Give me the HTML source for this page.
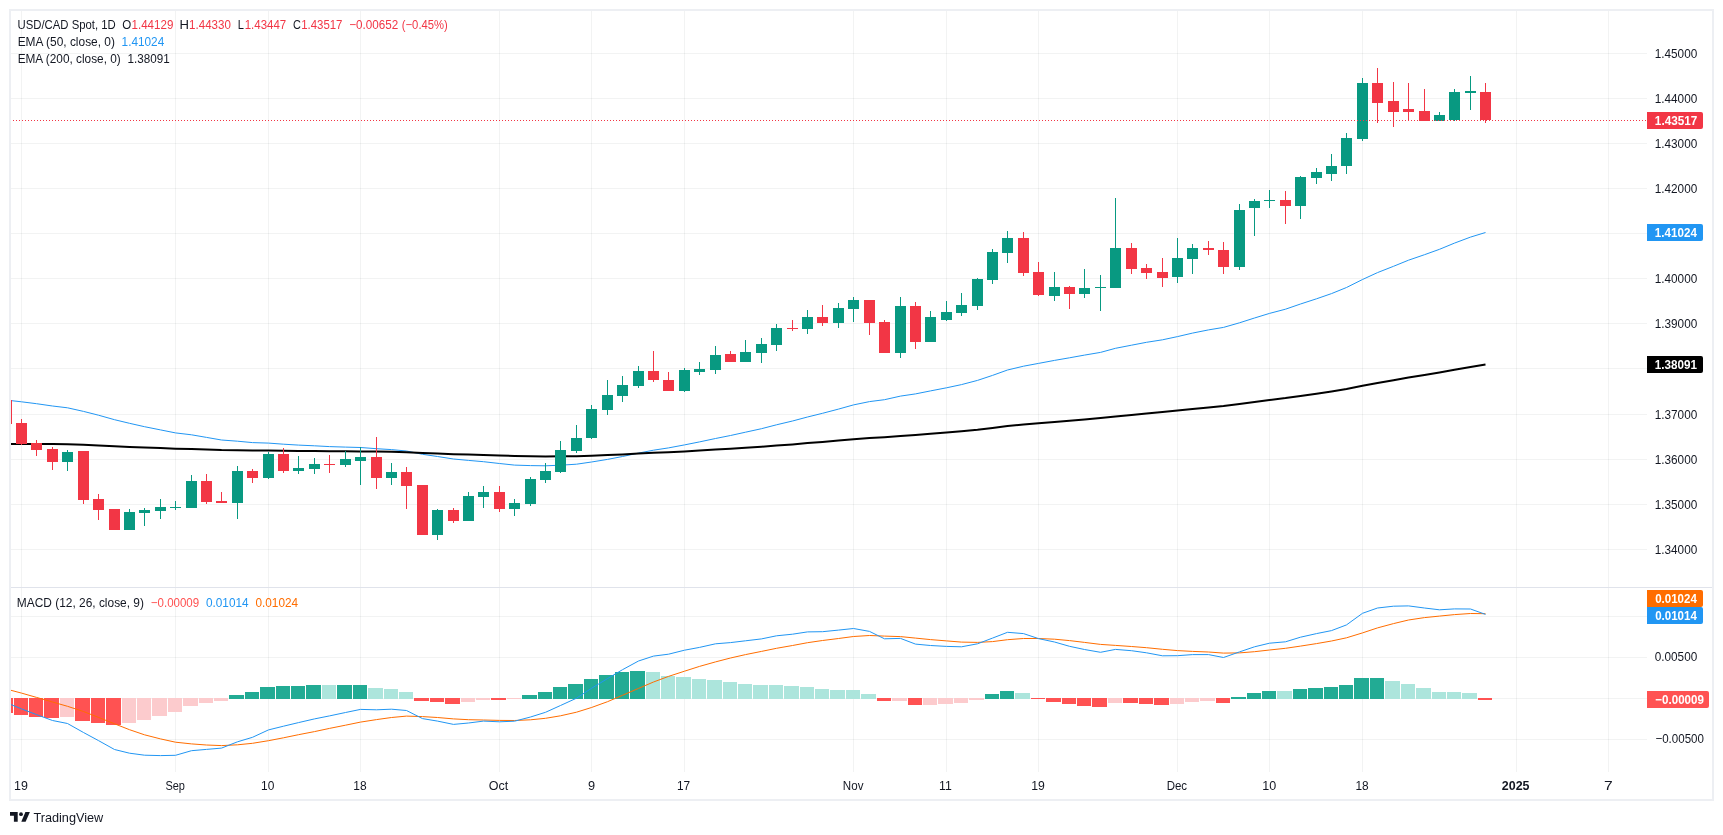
<!DOCTYPE html><html><head><meta charset="utf-8"><style>html,body{margin:0;padding:0;background:#fff;}svg{display:block;will-change:transform;}text{font-family:"Liberation Sans", sans-serif;}</style></head><body><svg width="1723" height="835" viewBox="0 0 1723 835" shape-rendering="crispEdges">
<rect x="0" y="0" width="1723" height="835" fill="#FFFFFF"/>
<rect x="9" y="9" width="1705" height="2" fill="#EDEFF3"/>
<rect x="9" y="799" width="1705" height="2" fill="#EDEFF3"/>
<rect x="9" y="9" width="2" height="792" fill="#EDEFF3"/>
<rect x="1712" y="9" width="2" height="792" fill="#EDEFF3"/>
<defs><clipPath id="c1"><rect x="11" y="11" width="1636" height="576"/></clipPath><clipPath id="c2"><rect x="11" y="588" width="1636" height="183"/></clipPath></defs>
<rect x="21" y="11" width="1" height="761" fill="rgba(42,46,57,0.06)"/>
<rect x="175" y="11" width="1" height="761" fill="rgba(42,46,57,0.06)"/>
<rect x="268" y="11" width="1" height="761" fill="rgba(42,46,57,0.06)"/>
<rect x="360" y="11" width="1" height="761" fill="rgba(42,46,57,0.06)"/>
<rect x="499" y="11" width="1" height="761" fill="rgba(42,46,57,0.06)"/>
<rect x="591" y="11" width="1" height="761" fill="rgba(42,46,57,0.06)"/>
<rect x="684" y="11" width="1" height="761" fill="rgba(42,46,57,0.06)"/>
<rect x="853" y="11" width="1" height="761" fill="rgba(42,46,57,0.06)"/>
<rect x="946" y="11" width="1" height="761" fill="rgba(42,46,57,0.06)"/>
<rect x="1038" y="11" width="1" height="761" fill="rgba(42,46,57,0.06)"/>
<rect x="1177" y="11" width="1" height="761" fill="rgba(42,46,57,0.06)"/>
<rect x="1269" y="11" width="1" height="761" fill="rgba(42,46,57,0.06)"/>
<rect x="1362" y="11" width="1" height="761" fill="rgba(42,46,57,0.06)"/>
<rect x="1516" y="11" width="1" height="761" fill="rgba(42,46,57,0.06)"/>
<rect x="1608" y="11" width="1" height="761" fill="rgba(42,46,57,0.06)"/>
<rect x="11" y="53" width="1636" height="1" fill="rgba(42,46,57,0.06)"/>
<rect x="11" y="98" width="1636" height="1" fill="rgba(42,46,57,0.06)"/>
<rect x="11" y="143" width="1636" height="1" fill="rgba(42,46,57,0.06)"/>
<rect x="11" y="188" width="1636" height="1" fill="rgba(42,46,57,0.06)"/>
<rect x="11" y="233" width="1636" height="1" fill="rgba(42,46,57,0.06)"/>
<rect x="11" y="278" width="1636" height="1" fill="rgba(42,46,57,0.06)"/>
<rect x="11" y="323" width="1636" height="1" fill="rgba(42,46,57,0.06)"/>
<rect x="11" y="368" width="1636" height="1" fill="rgba(42,46,57,0.06)"/>
<rect x="11" y="414" width="1636" height="1" fill="rgba(42,46,57,0.06)"/>
<rect x="11" y="459" width="1636" height="1" fill="rgba(42,46,57,0.06)"/>
<rect x="11" y="504" width="1636" height="1" fill="rgba(42,46,57,0.06)"/>
<rect x="11" y="549" width="1636" height="1" fill="rgba(42,46,57,0.06)"/>
<rect x="11" y="616" width="1636" height="1" fill="rgba(42,46,57,0.06)"/>
<rect x="11" y="657" width="1636" height="1" fill="rgba(42,46,57,0.06)"/>
<rect x="11" y="698" width="1636" height="1" fill="rgba(42,46,57,0.06)"/>
<rect x="11" y="739" width="1636" height="1" fill="rgba(42,46,57,0.06)"/>
<rect x="11" y="587" width="1701" height="1" fill="#E0E3EB"/>
<g clip-path="url(#c1)">
<polyline points="6.5,400.1 21.5,401.8 36.5,403.7 52.5,406.0 67.5,407.8 83.5,411.4 98.5,415.2 114.5,419.7 129.5,423.3 144.5,426.7 160.5,429.9 175.5,432.9 191.5,434.8 206.5,437.4 221.5,440.0 237.5,441.2 252.5,442.6 268.5,443.1 283.5,444.2 298.5,445.1 314.5,445.8 329.5,446.6 345.5,447.1 360.5,447.5 376.5,448.7 391.5,449.6 406.5,451.0 422.5,454.3 437.5,456.5 453.5,459.0 468.5,460.4 483.5,461.7 499.5,463.5 514.5,465.1 530.5,465.6 545.5,465.8 560.5,465.2 576.5,464.2 591.5,462.0 607.5,459.4 622.5,456.5 638.5,453.1 653.5,450.2 668.5,447.9 684.5,444.9 699.5,441.9 715.5,438.5 730.5,435.5 745.5,432.2 761.5,428.7 776.5,424.8 792.5,421.0 807.5,417.0 822.5,413.3 838.5,409.1 853.5,404.9 869.5,401.6 884.5,399.7 900.5,396.1 915.5,393.9 930.5,390.9 946.5,387.8 961.5,384.6 977.5,380.4 992.5,375.4 1007.5,370.0 1023.5,366.2 1038.5,363.4 1054.5,360.4 1069.5,357.8 1084.5,355.1 1100.5,352.4 1115.5,348.3 1131.5,345.2 1146.5,342.3 1162.5,339.8 1177.5,336.6 1192.5,333.1 1208.5,329.9 1223.5,327.4 1239.5,322.8 1254.5,318.0 1269.5,313.4 1285.5,309.2 1300.5,304.0 1316.5,298.8 1331.5,293.6 1346.5,287.5 1362.5,279.5 1377.5,272.6 1393.5,266.3 1408.5,260.2 1424.5,254.7 1439.5,249.3 1454.5,243.1 1470.5,237.1 1485.5,232.5" fill="none" stroke="#2196F3" stroke-width="1" shape-rendering="geometricPrecision" stroke-linejoin="round"/>
<polyline points="6.5,443.9 21.5,443.9 36.5,443.9 52.5,444.1 67.5,444.2 83.5,444.7 98.5,445.4 114.5,446.2 129.5,446.9 144.5,447.5 160.5,448.1 175.5,448.7 191.5,449.0 206.5,449.5 221.5,450.1 237.5,450.3 252.5,450.5 268.5,450.6 283.5,450.8 298.5,451.0 314.5,451.1 329.5,451.2 345.5,451.3 360.5,451.4 376.5,451.6 391.5,451.8 406.5,452.2 422.5,453.0 437.5,453.6 453.5,454.2 468.5,454.6 483.5,455.0 499.5,455.5 514.5,456.0 530.5,456.2 545.5,456.4 560.5,456.3 576.5,456.2 591.5,455.7 607.5,455.1 622.5,454.4 638.5,453.6 653.5,452.8 668.5,452.2 684.5,451.4 699.5,450.6 715.5,449.6 730.5,448.7 745.5,447.8 761.5,446.7 776.5,445.6 792.5,444.4 807.5,443.1 822.5,441.9 838.5,440.6 853.5,439.2 869.5,438.1 884.5,437.2 900.5,435.9 915.5,435.0 930.5,433.8 946.5,432.6 961.5,431.3 977.5,429.8 992.5,428.0 1007.5,426.1 1023.5,424.6 1038.5,423.3 1054.5,422.0 1069.5,420.7 1084.5,419.4 1100.5,418.0 1115.5,416.4 1131.5,414.9 1146.5,413.5 1162.5,412.1 1177.5,410.6 1192.5,409.0 1208.5,407.4 1223.5,406.0 1239.5,404.1 1254.5,402.0 1269.5,400.0 1285.5,398.1 1300.5,395.9 1316.5,393.7 1331.5,391.4 1346.5,388.9 1362.5,385.8 1377.5,383.0 1393.5,380.3 1408.5,377.6 1424.5,375.1 1439.5,372.5 1454.5,369.7 1470.5,366.9 1485.5,364.5" fill="none" stroke="#000000" stroke-width="2" shape-rendering="geometricPrecision" stroke-linejoin="round"/>
<rect x="6" y="396" width="1" height="29" fill="#F23645"/>
<rect x="1" y="400" width="11" height="24" fill="#F23645"/>
<rect x="21" y="419" width="1" height="26" fill="#F23645"/>
<rect x="16" y="423" width="11" height="21" fill="#F23645"/>
<rect x="36" y="440" width="1" height="16" fill="#F23645"/>
<rect x="31" y="443" width="11" height="7" fill="#F23645"/>
<rect x="52" y="447" width="1" height="23" fill="#F23645"/>
<rect x="47" y="449" width="11" height="13" fill="#F23645"/>
<rect x="67" y="450" width="1" height="21" fill="#089981"/>
<rect x="62" y="452" width="11" height="10" fill="#089981"/>
<rect x="83" y="451" width="1" height="53" fill="#F23645"/>
<rect x="78" y="451" width="11" height="49" fill="#F23645"/>
<rect x="98" y="494" width="1" height="26" fill="#F23645"/>
<rect x="93" y="499" width="11" height="11" fill="#F23645"/>
<rect x="114" y="509" width="1" height="21" fill="#F23645"/>
<rect x="109" y="509" width="11" height="21" fill="#F23645"/>
<rect x="129" y="509" width="1" height="21" fill="#089981"/>
<rect x="124" y="512" width="11" height="18" fill="#089981"/>
<rect x="144" y="508" width="1" height="18" fill="#089981"/>
<rect x="139" y="510" width="11" height="3" fill="#089981"/>
<rect x="160" y="499" width="1" height="20" fill="#089981"/>
<rect x="155" y="507" width="11" height="4" fill="#089981"/>
<rect x="175" y="501" width="1" height="9" fill="#089981"/>
<rect x="170" y="507" width="11" height="1" fill="#089981"/>
<rect x="191" y="475" width="1" height="33" fill="#089981"/>
<rect x="186" y="481" width="11" height="27" fill="#089981"/>
<rect x="206" y="474" width="1" height="30" fill="#F23645"/>
<rect x="201" y="481" width="11" height="21" fill="#F23645"/>
<rect x="221" y="492" width="1" height="11" fill="#F23645"/>
<rect x="216" y="501" width="11" height="2" fill="#F23645"/>
<rect x="237" y="466" width="1" height="53" fill="#089981"/>
<rect x="232" y="471" width="11" height="32" fill="#089981"/>
<rect x="252" y="469" width="1" height="14" fill="#F23645"/>
<rect x="247" y="471" width="11" height="7" fill="#F23645"/>
<rect x="268" y="452" width="1" height="27" fill="#089981"/>
<rect x="263" y="454" width="11" height="24" fill="#089981"/>
<rect x="283" y="448" width="1" height="25" fill="#F23645"/>
<rect x="278" y="454" width="11" height="17" fill="#F23645"/>
<rect x="298" y="456" width="1" height="18" fill="#089981"/>
<rect x="293" y="468" width="11" height="3" fill="#089981"/>
<rect x="314" y="458" width="1" height="16" fill="#089981"/>
<rect x="309" y="464" width="11" height="5" fill="#089981"/>
<rect x="329" y="455" width="1" height="18" fill="#F23645"/>
<rect x="324" y="464" width="11" height="1" fill="#F23645"/>
<rect x="345" y="451" width="1" height="16" fill="#089981"/>
<rect x="340" y="459" width="11" height="6" fill="#089981"/>
<rect x="360" y="447" width="1" height="38" fill="#089981"/>
<rect x="355" y="457" width="11" height="4" fill="#089981"/>
<rect x="376" y="437" width="1" height="52" fill="#F23645"/>
<rect x="371" y="457" width="11" height="21" fill="#F23645"/>
<rect x="391" y="463" width="1" height="22" fill="#089981"/>
<rect x="386" y="472" width="11" height="6" fill="#089981"/>
<rect x="406" y="467" width="1" height="42" fill="#F23645"/>
<rect x="401" y="472" width="11" height="14" fill="#F23645"/>
<rect x="422" y="485" width="1" height="50" fill="#F23645"/>
<rect x="417" y="485" width="11" height="50" fill="#F23645"/>
<rect x="437" y="509" width="1" height="31" fill="#089981"/>
<rect x="432" y="510" width="11" height="25" fill="#089981"/>
<rect x="453" y="508" width="1" height="15" fill="#F23645"/>
<rect x="448" y="510" width="11" height="11" fill="#F23645"/>
<rect x="468" y="492" width="1" height="29" fill="#089981"/>
<rect x="463" y="496" width="11" height="25" fill="#089981"/>
<rect x="483" y="486" width="1" height="22" fill="#089981"/>
<rect x="478" y="492" width="11" height="5" fill="#089981"/>
<rect x="499" y="486" width="1" height="26" fill="#F23645"/>
<rect x="494" y="492" width="11" height="17" fill="#F23645"/>
<rect x="514" y="499" width="1" height="17" fill="#089981"/>
<rect x="509" y="503" width="11" height="6" fill="#089981"/>
<rect x="530" y="477" width="1" height="29" fill="#089981"/>
<rect x="525" y="479" width="11" height="25" fill="#089981"/>
<rect x="545" y="463" width="1" height="20" fill="#089981"/>
<rect x="540" y="471" width="11" height="9" fill="#089981"/>
<rect x="560" y="441" width="1" height="32" fill="#089981"/>
<rect x="555" y="450" width="11" height="22" fill="#089981"/>
<rect x="576" y="425" width="1" height="28" fill="#089981"/>
<rect x="571" y="438" width="11" height="13" fill="#089981"/>
<rect x="591" y="405" width="1" height="34" fill="#089981"/>
<rect x="586" y="409" width="11" height="29" fill="#089981"/>
<rect x="607" y="380" width="1" height="35" fill="#089981"/>
<rect x="602" y="395" width="11" height="15" fill="#089981"/>
<rect x="622" y="376" width="1" height="26" fill="#089981"/>
<rect x="617" y="385" width="11" height="11" fill="#089981"/>
<rect x="638" y="366" width="1" height="22" fill="#089981"/>
<rect x="633" y="371" width="11" height="15" fill="#089981"/>
<rect x="653" y="351" width="1" height="31" fill="#F23645"/>
<rect x="648" y="371" width="11" height="9" fill="#F23645"/>
<rect x="668" y="372" width="1" height="19" fill="#F23645"/>
<rect x="663" y="380" width="11" height="11" fill="#F23645"/>
<rect x="684" y="368" width="1" height="24" fill="#089981"/>
<rect x="679" y="370" width="11" height="21" fill="#089981"/>
<rect x="699" y="362" width="1" height="13" fill="#089981"/>
<rect x="694" y="369" width="11" height="3" fill="#089981"/>
<rect x="715" y="346" width="1" height="28" fill="#089981"/>
<rect x="710" y="355" width="11" height="15" fill="#089981"/>
<rect x="730" y="351" width="1" height="11" fill="#F23645"/>
<rect x="725" y="354" width="11" height="8" fill="#F23645"/>
<rect x="745" y="340" width="1" height="22" fill="#089981"/>
<rect x="740" y="352" width="11" height="10" fill="#089981"/>
<rect x="761" y="338" width="1" height="25" fill="#089981"/>
<rect x="756" y="344" width="11" height="9" fill="#089981"/>
<rect x="776" y="324" width="1" height="27" fill="#089981"/>
<rect x="771" y="328" width="11" height="17" fill="#089981"/>
<rect x="792" y="320" width="1" height="11" fill="#F23645"/>
<rect x="787" y="328" width="11" height="1" fill="#F23645"/>
<rect x="807" y="310" width="1" height="24" fill="#089981"/>
<rect x="802" y="317" width="11" height="12" fill="#089981"/>
<rect x="822" y="305" width="1" height="21" fill="#F23645"/>
<rect x="817" y="317" width="11" height="6" fill="#F23645"/>
<rect x="838" y="303" width="1" height="25" fill="#089981"/>
<rect x="833" y="308" width="11" height="15" fill="#089981"/>
<rect x="853" y="297" width="1" height="25" fill="#089981"/>
<rect x="848" y="300" width="11" height="9" fill="#089981"/>
<rect x="869" y="300" width="1" height="35" fill="#F23645"/>
<rect x="864" y="300" width="11" height="23" fill="#F23645"/>
<rect x="884" y="320" width="1" height="33" fill="#F23645"/>
<rect x="879" y="322" width="11" height="31" fill="#F23645"/>
<rect x="900" y="297" width="1" height="61" fill="#089981"/>
<rect x="895" y="306" width="11" height="47" fill="#089981"/>
<rect x="915" y="302" width="1" height="47" fill="#F23645"/>
<rect x="910" y="306" width="11" height="36" fill="#F23645"/>
<rect x="930" y="311" width="1" height="31" fill="#089981"/>
<rect x="925" y="317" width="11" height="25" fill="#089981"/>
<rect x="946" y="301" width="1" height="20" fill="#089981"/>
<rect x="941" y="312" width="11" height="8" fill="#089981"/>
<rect x="961" y="293" width="1" height="23" fill="#089981"/>
<rect x="956" y="305" width="11" height="8" fill="#089981"/>
<rect x="977" y="278" width="1" height="32" fill="#089981"/>
<rect x="972" y="279" width="11" height="27" fill="#089981"/>
<rect x="992" y="249" width="1" height="35" fill="#089981"/>
<rect x="987" y="252" width="11" height="28" fill="#089981"/>
<rect x="1007" y="231" width="1" height="32" fill="#089981"/>
<rect x="1002" y="238" width="11" height="15" fill="#089981"/>
<rect x="1023" y="232" width="1" height="44" fill="#F23645"/>
<rect x="1018" y="238" width="11" height="35" fill="#F23645"/>
<rect x="1038" y="262" width="1" height="34" fill="#F23645"/>
<rect x="1033" y="272" width="11" height="23" fill="#F23645"/>
<rect x="1054" y="272" width="1" height="29" fill="#089981"/>
<rect x="1049" y="287" width="11" height="9" fill="#089981"/>
<rect x="1069" y="286" width="1" height="23" fill="#F23645"/>
<rect x="1064" y="287" width="11" height="7" fill="#F23645"/>
<rect x="1084" y="269" width="1" height="29" fill="#089981"/>
<rect x="1079" y="288" width="11" height="6" fill="#089981"/>
<rect x="1100" y="275" width="1" height="36" fill="#089981"/>
<rect x="1095" y="287" width="11" height="1" fill="#089981"/>
<rect x="1115" y="198" width="1" height="90" fill="#089981"/>
<rect x="1110" y="248" width="11" height="40" fill="#089981"/>
<rect x="1131" y="243" width="1" height="31" fill="#F23645"/>
<rect x="1126" y="248" width="11" height="21" fill="#F23645"/>
<rect x="1146" y="264" width="1" height="15" fill="#F23645"/>
<rect x="1141" y="268" width="11" height="5" fill="#F23645"/>
<rect x="1162" y="258" width="1" height="29" fill="#F23645"/>
<rect x="1157" y="272" width="11" height="6" fill="#F23645"/>
<rect x="1177" y="238" width="1" height="45" fill="#089981"/>
<rect x="1172" y="258" width="11" height="19" fill="#089981"/>
<rect x="1192" y="244" width="1" height="30" fill="#089981"/>
<rect x="1187" y="248" width="11" height="11" fill="#089981"/>
<rect x="1208" y="241" width="1" height="14" fill="#F23645"/>
<rect x="1203" y="248" width="11" height="2" fill="#F23645"/>
<rect x="1223" y="242" width="1" height="32" fill="#F23645"/>
<rect x="1218" y="250" width="11" height="17" fill="#F23645"/>
<rect x="1239" y="204" width="1" height="66" fill="#089981"/>
<rect x="1234" y="210" width="11" height="57" fill="#089981"/>
<rect x="1254" y="199" width="1" height="37" fill="#089981"/>
<rect x="1249" y="201" width="11" height="7" fill="#089981"/>
<rect x="1269" y="190" width="1" height="18" fill="#089981"/>
<rect x="1264" y="200" width="11" height="1" fill="#089981"/>
<rect x="1285" y="191" width="1" height="33" fill="#F23645"/>
<rect x="1280" y="200" width="11" height="6" fill="#F23645"/>
<rect x="1300" y="176" width="1" height="43" fill="#089981"/>
<rect x="1295" y="177" width="11" height="29" fill="#089981"/>
<rect x="1316" y="168" width="1" height="16" fill="#089981"/>
<rect x="1311" y="172" width="11" height="6" fill="#089981"/>
<rect x="1331" y="154" width="1" height="27" fill="#089981"/>
<rect x="1326" y="166" width="11" height="8" fill="#089981"/>
<rect x="1346" y="133" width="1" height="41" fill="#089981"/>
<rect x="1341" y="138" width="11" height="28" fill="#089981"/>
<rect x="1362" y="78" width="1" height="63" fill="#089981"/>
<rect x="1357" y="83" width="11" height="56" fill="#089981"/>
<rect x="1377" y="68" width="1" height="55" fill="#F23645"/>
<rect x="1372" y="83" width="11" height="20" fill="#F23645"/>
<rect x="1393" y="82" width="1" height="45" fill="#F23645"/>
<rect x="1388" y="101" width="11" height="11" fill="#F23645"/>
<rect x="1408" y="83" width="1" height="38" fill="#F23645"/>
<rect x="1403" y="109" width="11" height="3" fill="#F23645"/>
<rect x="1424" y="89" width="1" height="32" fill="#F23645"/>
<rect x="1419" y="111" width="11" height="10" fill="#F23645"/>
<rect x="1439" y="112" width="1" height="9" fill="#089981"/>
<rect x="1434" y="115" width="11" height="6" fill="#089981"/>
<rect x="1454" y="89" width="1" height="32" fill="#089981"/>
<rect x="1449" y="92" width="11" height="28" fill="#089981"/>
<rect x="1470" y="76" width="1" height="34" fill="#089981"/>
<rect x="1465" y="91" width="11" height="2" fill="#089981"/>
<rect x="1485" y="83" width="1" height="40" fill="#F23645"/>
<rect x="1480" y="92" width="11" height="28" fill="#F23645"/>
<line x1="10" y1="120.5" x2="1647" y2="120.5" stroke="#F23645" stroke-width="1" stroke-dasharray="1 2"/>
</g>
<g clip-path="url(#c2)">
<rect x="-1" y="698" width="14" height="15" fill="#FF5252"/>
<rect x="14" y="698" width="14" height="17" fill="#FF5252"/>
<rect x="29" y="698" width="14" height="19" fill="#FF5252"/>
<rect x="44" y="698" width="15" height="20" fill="#FF5252"/>
<rect x="60" y="698" width="14" height="19" fill="#FCCBCD"/>
<rect x="75" y="698" width="15" height="23" fill="#FF5252"/>
<rect x="91" y="698" width="14" height="25" fill="#FF5252"/>
<rect x="106" y="698" width="15" height="27" fill="#FF5252"/>
<rect x="122" y="698" width="14" height="25" fill="#FCCBCD"/>
<rect x="137" y="698" width="14" height="22" fill="#FCCBCD"/>
<rect x="152" y="698" width="15" height="18" fill="#FCCBCD"/>
<rect x="168" y="698" width="14" height="14" fill="#FCCBCD"/>
<rect x="183" y="698" width="15" height="8" fill="#FCCBCD"/>
<rect x="199" y="698" width="14" height="5" fill="#FCCBCD"/>
<rect x="214" y="698" width="14" height="3" fill="#FCCBCD"/>
<rect x="229" y="695" width="15" height="4" fill="#22AB94"/>
<rect x="245" y="692" width="14" height="7" fill="#22AB94"/>
<rect x="260" y="687" width="15" height="12" fill="#22AB94"/>
<rect x="276" y="686" width="14" height="13" fill="#22AB94"/>
<rect x="291" y="686" width="14" height="13" fill="#22AB94"/>
<rect x="306" y="685" width="15" height="14" fill="#22AB94"/>
<rect x="322" y="685" width="14" height="14" fill="#ACE5DC"/>
<rect x="337" y="685" width="15" height="14" fill="#22AB94"/>
<rect x="353" y="685" width="14" height="14" fill="#22AB94"/>
<rect x="368" y="688" width="15" height="11" fill="#ACE5DC"/>
<rect x="384" y="689" width="14" height="10" fill="#ACE5DC"/>
<rect x="399" y="692" width="14" height="7" fill="#ACE5DC"/>
<rect x="414" y="698" width="15" height="3" fill="#FF5252"/>
<rect x="430" y="698" width="14" height="4" fill="#FF5252"/>
<rect x="445" y="698" width="15" height="6" fill="#FF5252"/>
<rect x="461" y="698" width="14" height="4" fill="#FCCBCD"/>
<rect x="476" y="698" width="14" height="2" fill="#FCCBCD"/>
<rect x="491" y="698" width="15" height="2" fill="#FF5252"/>
<rect x="507" y="698" width="14" height="1" fill="#FCCBCD"/>
<rect x="522" y="695" width="15" height="4" fill="#22AB94"/>
<rect x="538" y="692" width="14" height="7" fill="#22AB94"/>
<rect x="553" y="687" width="14" height="12" fill="#22AB94"/>
<rect x="568" y="684" width="15" height="15" fill="#22AB94"/>
<rect x="584" y="679" width="14" height="20" fill="#22AB94"/>
<rect x="599" y="675" width="15" height="24" fill="#22AB94"/>
<rect x="615" y="672" width="14" height="27" fill="#22AB94"/>
<rect x="630" y="671" width="15" height="28" fill="#22AB94"/>
<rect x="646" y="672" width="14" height="27" fill="#ACE5DC"/>
<rect x="661" y="676" width="14" height="23" fill="#ACE5DC"/>
<rect x="676" y="677" width="15" height="22" fill="#ACE5DC"/>
<rect x="692" y="679" width="14" height="20" fill="#ACE5DC"/>
<rect x="707" y="680" width="15" height="19" fill="#ACE5DC"/>
<rect x="723" y="682" width="14" height="17" fill="#ACE5DC"/>
<rect x="738" y="684" width="14" height="15" fill="#ACE5DC"/>
<rect x="753" y="685" width="15" height="14" fill="#ACE5DC"/>
<rect x="769" y="685" width="14" height="14" fill="#ACE5DC"/>
<rect x="784" y="686" width="15" height="13" fill="#ACE5DC"/>
<rect x="800" y="687" width="14" height="12" fill="#ACE5DC"/>
<rect x="815" y="689" width="14" height="10" fill="#ACE5DC"/>
<rect x="830" y="690" width="15" height="9" fill="#ACE5DC"/>
<rect x="846" y="690" width="14" height="9" fill="#ACE5DC"/>
<rect x="861" y="694" width="15" height="5" fill="#ACE5DC"/>
<rect x="877" y="698" width="14" height="3" fill="#FF5252"/>
<rect x="892" y="698" width="15" height="3" fill="#FCCBCD"/>
<rect x="908" y="698" width="14" height="7" fill="#FF5252"/>
<rect x="923" y="698" width="14" height="7" fill="#FCCBCD"/>
<rect x="938" y="698" width="15" height="6" fill="#FCCBCD"/>
<rect x="954" y="698" width="14" height="5" fill="#FCCBCD"/>
<rect x="969" y="698" width="15" height="2" fill="#FCCBCD"/>
<rect x="985" y="694" width="14" height="5" fill="#22AB94"/>
<rect x="1000" y="691" width="14" height="8" fill="#22AB94"/>
<rect x="1015" y="693" width="15" height="6" fill="#ACE5DC"/>
<rect x="1031" y="698" width="14" height="1" fill="#FF5252"/>
<rect x="1046" y="698" width="15" height="4" fill="#FF5252"/>
<rect x="1062" y="698" width="14" height="6" fill="#FF5252"/>
<rect x="1077" y="698" width="14" height="8" fill="#FF5252"/>
<rect x="1092" y="698" width="15" height="9" fill="#FF5252"/>
<rect x="1108" y="698" width="14" height="5" fill="#FCCBCD"/>
<rect x="1123" y="698" width="15" height="5" fill="#FF5252"/>
<rect x="1139" y="698" width="14" height="6" fill="#FF5252"/>
<rect x="1154" y="698" width="15" height="7" fill="#FF5252"/>
<rect x="1170" y="698" width="14" height="6" fill="#FCCBCD"/>
<rect x="1185" y="698" width="14" height="4" fill="#FCCBCD"/>
<rect x="1200" y="698" width="15" height="3" fill="#FCCBCD"/>
<rect x="1216" y="698" width="14" height="5" fill="#FF5252"/>
<rect x="1231" y="697" width="15" height="2" fill="#22AB94"/>
<rect x="1247" y="693" width="14" height="6" fill="#22AB94"/>
<rect x="1262" y="691" width="14" height="8" fill="#22AB94"/>
<rect x="1277" y="691" width="15" height="8" fill="#ACE5DC"/>
<rect x="1293" y="689" width="14" height="10" fill="#22AB94"/>
<rect x="1308" y="688" width="15" height="11" fill="#22AB94"/>
<rect x="1324" y="687" width="14" height="12" fill="#22AB94"/>
<rect x="1339" y="685" width="14" height="14" fill="#22AB94"/>
<rect x="1354" y="678" width="15" height="21" fill="#22AB94"/>
<rect x="1370" y="678" width="14" height="21" fill="#22AB94"/>
<rect x="1385" y="681" width="15" height="18" fill="#ACE5DC"/>
<rect x="1401" y="684" width="14" height="15" fill="#ACE5DC"/>
<rect x="1416" y="688" width="15" height="11" fill="#ACE5DC"/>
<rect x="1432" y="692" width="14" height="7" fill="#ACE5DC"/>
<rect x="1447" y="692" width="14" height="7" fill="#ACE5DC"/>
<rect x="1462" y="693" width="15" height="6" fill="#ACE5DC"/>
<rect x="1478" y="698" width="14" height="2" fill="#FF5252"/>
<polyline points="6.5,689.1 21.5,693.1 36.5,697.4 52.5,702.0 67.5,706.3 83.5,711.5 98.5,717.4 114.5,723.8 129.5,729.7 144.5,734.8 160.5,738.9 175.5,742.2 191.5,743.9 206.5,745.0 221.5,745.6 237.5,744.8 252.5,743.3 268.5,740.7 283.5,737.8 298.5,734.7 314.5,731.6 329.5,728.4 345.5,725.2 360.5,722.1 376.5,719.6 391.5,717.5 406.5,716.1 422.5,716.6 437.5,717.5 453.5,718.9 468.5,719.7 483.5,720.0 499.5,720.4 514.5,720.5 530.5,719.8 545.5,718.3 560.5,715.8 576.5,712.2 591.5,707.5 607.5,701.7 622.5,695.3 638.5,688.4 653.5,682.0 668.5,676.4 684.5,671.2 699.5,666.4 715.5,661.9 730.5,658.0 745.5,654.6 761.5,651.4 776.5,648.3 792.5,645.5 807.5,642.7 822.5,640.5 838.5,638.5 853.5,636.5 869.5,635.5 884.5,636.1 900.5,636.6 915.5,638.1 930.5,639.6 946.5,640.9 961.5,642.1 977.5,642.4 992.5,641.6 1007.5,639.7 1023.5,638.5 1038.5,638.5 1054.5,639.2 1069.5,640.6 1084.5,642.4 1100.5,644.4 1115.5,645.4 1131.5,646.5 1146.5,647.7 1162.5,649.3 1177.5,650.6 1192.5,651.4 1208.5,652.0 1223.5,653.1 1239.5,652.9 1254.5,651.7 1269.5,650.0 1285.5,648.3 1300.5,646.1 1316.5,643.6 1331.5,641.0 1346.5,637.8 1362.5,632.9 1377.5,627.9 1393.5,623.6 1408.5,620.0 1424.5,617.6 1439.5,616.1 1454.5,614.6 1470.5,613.5 1485.5,613.7" fill="none" stroke="#FF6D00" stroke-width="1" shape-rendering="geometricPrecision" stroke-linejoin="round"/>
<polyline points="6.5,702.7 21.5,708.9 36.5,714.6 52.5,720.5 67.5,723.5 83.5,732.5 98.5,740.6 114.5,749.5 129.5,753.2 144.5,755.2 160.5,755.6 175.5,755.3 191.5,750.7 206.5,749.4 221.5,748.1 237.5,741.8 252.5,737.3 268.5,729.9 283.5,726.2 298.5,722.6 314.5,718.9 329.5,715.9 345.5,712.5 360.5,709.4 376.5,709.8 391.5,709.2 406.5,710.5 422.5,718.6 437.5,721.1 453.5,724.4 468.5,723.0 483.5,721.1 499.5,721.8 514.5,721.2 530.5,717.0 545.5,712.3 560.5,705.5 576.5,698.2 591.5,688.3 607.5,678.6 622.5,669.7 638.5,661.0 653.5,656.1 668.5,654.2 684.5,650.2 699.5,647.4 715.5,643.8 730.5,642.6 745.5,640.8 761.5,638.9 776.5,635.8 792.5,634.2 807.5,631.9 822.5,631.7 838.5,630.1 853.5,628.5 869.5,631.4 884.5,638.8 900.5,638.4 915.5,644.1 930.5,645.5 946.5,646.4 961.5,646.8 977.5,643.8 992.5,638.1 1007.5,632.3 1023.5,633.6 1038.5,638.6 1054.5,642.0 1069.5,646.3 1084.5,649.5 1100.5,652.3 1115.5,649.4 1131.5,650.7 1146.5,652.8 1162.5,655.8 1177.5,655.7 1192.5,654.6 1208.5,654.6 1223.5,657.5 1239.5,651.9 1254.5,646.8 1269.5,643.2 1285.5,641.8 1300.5,637.2 1316.5,633.6 1331.5,630.6 1346.5,624.9 1362.5,613.3 1377.5,608.0 1393.5,606.2 1408.5,605.9 1424.5,608.0 1439.5,609.8 1454.5,608.9 1470.5,609.0 1485.5,614.4" fill="none" stroke="#2196F3" stroke-width="1" shape-rendering="geometricPrecision" stroke-linejoin="round"/>
</g>
<g font-family='"Liberation Sans", sans-serif' shape-rendering="geometricPrecision">
<text x="17.53" y="29" fill="#131722" font-size="12.5" textLength="98.22" lengthAdjust="spacingAndGlyphs">USD/CAD Spot, 1D</text>
<text x="122.35" y="29" fill="#131722" font-size="12.5" textLength="9.00" lengthAdjust="spacingAndGlyphs">O</text>
<text x="131.52" y="29" fill="#F23645" font-size="12.5" textLength="41.83" lengthAdjust="spacingAndGlyphs">1.44129</text>
<text x="179.63" y="29" fill="#131722" font-size="12.5" textLength="9.44" lengthAdjust="spacingAndGlyphs">H</text>
<text x="189.12" y="29" fill="#F23645" font-size="12.5" textLength="41.73" lengthAdjust="spacingAndGlyphs">1.44330</text>
<text x="237.79" y="29" fill="#131722" font-size="12.5" textLength="6.18" lengthAdjust="spacingAndGlyphs">L</text>
<text x="244.72" y="29" fill="#F23645" font-size="12.5" textLength="41.55" lengthAdjust="spacingAndGlyphs">1.43447</text>
<text x="293.05" y="29" fill="#131722" font-size="12.5" textLength="7.87" lengthAdjust="spacingAndGlyphs">C</text>
<text x="301.13" y="29" fill="#F23645" font-size="12.5" textLength="41.35" lengthAdjust="spacingAndGlyphs">1.43517</text>
<text x="349.22" y="29" fill="#F23645" font-size="12.5" textLength="48.96" lengthAdjust="spacingAndGlyphs">−0.00652</text>
<text x="401.80" y="29" fill="#F23645" font-size="12.5" textLength="46.00" lengthAdjust="spacingAndGlyphs">(−0.45%)</text>
<text x="17.63" y="45.8" fill="#131722" font-size="12.5" textLength="97.30" lengthAdjust="spacingAndGlyphs">EMA (50, close, 0)</text>
<text x="121.60" y="45.8" fill="#2196F3" font-size="12.5" textLength="42.64" lengthAdjust="spacingAndGlyphs">1.41024</text>
<text x="17.64" y="62.6" fill="#131722" font-size="12.5" textLength="103.09" lengthAdjust="spacingAndGlyphs">EMA (200, close, 0)</text>
<text x="127.51" y="62.6" fill="#131722" font-size="12.5" textLength="42.16" lengthAdjust="spacingAndGlyphs">1.38091</text>
<text x="16.82" y="607" fill="#131722" font-size="12.5" textLength="127.12" lengthAdjust="spacingAndGlyphs">MACD (12, 26, close, 9)</text>
<text x="150.83" y="607" fill="#FF5252" font-size="12.5" textLength="48.31" lengthAdjust="spacingAndGlyphs">−0.00009</text>
<text x="205.94" y="607" fill="#2196F3" font-size="12.5" textLength="42.61" lengthAdjust="spacingAndGlyphs">0.01014</text>
<text x="255.44" y="607" fill="#FF6D00" font-size="12.5" textLength="42.61" lengthAdjust="spacingAndGlyphs">0.01024</text>
<text x="1654.70" y="57.8" fill="#131722" font-size="12.7" textLength="42.56" lengthAdjust="spacingAndGlyphs">1.45000</text>
<text x="1654.70" y="102.8" fill="#131722" font-size="12.7" textLength="42.56" lengthAdjust="spacingAndGlyphs">1.44000</text>
<text x="1654.70" y="147.8" fill="#131722" font-size="12.7" textLength="42.56" lengthAdjust="spacingAndGlyphs">1.43000</text>
<text x="1654.70" y="192.8" fill="#131722" font-size="12.7" textLength="42.56" lengthAdjust="spacingAndGlyphs">1.42000</text>
<text x="1654.70" y="237.8" fill="#131722" font-size="12.7" textLength="42.56" lengthAdjust="spacingAndGlyphs">1.41000</text>
<text x="1654.70" y="282.8" fill="#131722" font-size="12.7" textLength="42.56" lengthAdjust="spacingAndGlyphs">1.40000</text>
<text x="1654.70" y="327.8" fill="#131722" font-size="12.7" textLength="42.56" lengthAdjust="spacingAndGlyphs">1.39000</text>
<text x="1654.70" y="372.8" fill="#131722" font-size="12.7" textLength="42.56" lengthAdjust="spacingAndGlyphs">1.38000</text>
<text x="1654.70" y="418.8" fill="#131722" font-size="12.7" textLength="42.56" lengthAdjust="spacingAndGlyphs">1.37000</text>
<text x="1654.70" y="463.8" fill="#131722" font-size="12.7" textLength="42.56" lengthAdjust="spacingAndGlyphs">1.36000</text>
<text x="1654.70" y="508.8" fill="#131722" font-size="12.7" textLength="42.56" lengthAdjust="spacingAndGlyphs">1.35000</text>
<text x="1654.70" y="553.8" fill="#131722" font-size="12.7" textLength="42.56" lengthAdjust="spacingAndGlyphs">1.34000</text>
<text x="1654.74" y="660.6" fill="#131722" font-size="12.7" textLength="42.52" lengthAdjust="spacingAndGlyphs">0.00500</text>
<text x="1655.43" y="742.7" fill="#131722" font-size="12.7" textLength="48.52" lengthAdjust="spacingAndGlyphs">−0.00500</text>
<path d="M1647 112 H1701 a2 2 0 0 1 2 2 V127 a2 2 0 0 1 -2 2 H1647 Z" fill="#F23645"/>
<text x="1654.86" y="124.9" fill="#FFFFFF" font-size="12.7" font-weight="bold" textLength="42.46" lengthAdjust="spacingAndGlyphs">1.43517</text>
<path d="M1647 224 H1701 a2 2 0 0 1 2 2 V239 a2 2 0 0 1 -2 2 H1647 Z" fill="#2196F3"/>
<text x="1654.87" y="236.9" fill="#FFFFFF" font-size="12.7" font-weight="bold" textLength="41.99" lengthAdjust="spacingAndGlyphs">1.41024</text>
<path d="M1647 356 H1701 a2 2 0 0 1 2 2 V371 a2 2 0 0 1 -2 2 H1647 Z" fill="#000000"/>
<text x="1654.86" y="368.9" fill="#FFFFFF" font-size="12.7" font-weight="bold" textLength="42.26" lengthAdjust="spacingAndGlyphs">1.38091</text>
<path d="M1647 590 H1701 a2 2 0 0 1 2 2 V605 a2 2 0 0 1 -2 2 H1647 Z" fill="#FF6D00"/>
<text x="1655.14" y="602.9" fill="#FFFFFF" font-size="12.7" font-weight="bold" textLength="41.72" lengthAdjust="spacingAndGlyphs">0.01024</text>
<path d="M1647 607 H1701 a2 2 0 0 1 2 2 V622 a2 2 0 0 1 -2 2 H1647 Z" fill="#2196F3"/>
<text x="1655.14" y="619.9" fill="#FFFFFF" font-size="12.7" font-weight="bold" textLength="41.72" lengthAdjust="spacingAndGlyphs">0.01014</text>
<path d="M1647 691 H1707 a2 2 0 0 1 2 2 V706 a2 2 0 0 1 -2 2 H1647 Z" fill="#FF5252"/>
<text x="1655.32" y="703.9" fill="#FFFFFF" font-size="12.7" font-weight="bold" textLength="48.61" lengthAdjust="spacingAndGlyphs">−0.00009</text>
<text x="14.05" y="789.9" fill="#131722" font-size="12.5" textLength="13.84" lengthAdjust="spacingAndGlyphs">19</text>
<text x="165.40" y="789.9" fill="#131722" font-size="12.5" textLength="19.56" lengthAdjust="spacingAndGlyphs">Sep</text>
<text x="261.09" y="789.9" fill="#131722" font-size="12.5" textLength="13.28" lengthAdjust="spacingAndGlyphs">10</text>
<text x="353.29" y="789.9" fill="#131722" font-size="12.5" textLength="13.33" lengthAdjust="spacingAndGlyphs">18</text>
<text x="488.81" y="789.9" fill="#131722" font-size="12.5" textLength="19.48" lengthAdjust="spacingAndGlyphs">Oct</text>
<text x="588.00" y="789.9" fill="#131722" font-size="12.5" textLength="7.10" lengthAdjust="spacingAndGlyphs">9</text>
<text x="677.00" y="789.9" fill="#131722" font-size="12.5" textLength="13.20" lengthAdjust="spacingAndGlyphs">17</text>
<text x="842.85" y="789.9" fill="#131722" font-size="12.5" textLength="20.59" lengthAdjust="spacingAndGlyphs">Nov</text>
<text x="939.03" y="789.9" fill="#131722" font-size="12.5" textLength="12.73" lengthAdjust="spacingAndGlyphs">11</text>
<text x="1031.27" y="789.9" fill="#131722" font-size="12.5" textLength="13.61" lengthAdjust="spacingAndGlyphs">19</text>
<text x="1166.66" y="789.9" fill="#131722" font-size="12.5" textLength="20.45" lengthAdjust="spacingAndGlyphs">Dec</text>
<text x="1262.35" y="789.9" fill="#131722" font-size="12.5" textLength="13.94" lengthAdjust="spacingAndGlyphs">10</text>
<text x="1355.39" y="789.9" fill="#131722" font-size="12.5" textLength="13.22" lengthAdjust="spacingAndGlyphs">18</text>
<text x="1501.87" y="789.9" fill="#131722" font-size="12.5" font-weight="bold" textLength="27.68" lengthAdjust="spacingAndGlyphs">2025</text>
<text x="1603.90" y="789.9" fill="#131722" font-size="12.5" textLength="8.69" lengthAdjust="spacingAndGlyphs">7</text>
<g fill="#131722"><path d="M10 812 H17.7 V821.8 H13.9 V815.8 H10 Z"/><circle cx="21" cy="814.2" r="1.9"/><path d="M25.4 812 H29.9 L25.6 821.8 H21.3 Z"/></g>
<text x="33.42" y="821.5" fill="#131722" font-size="12.6" textLength="69.85" lengthAdjust="spacingAndGlyphs">TradingView</text>
</g>
</svg></body></html>
